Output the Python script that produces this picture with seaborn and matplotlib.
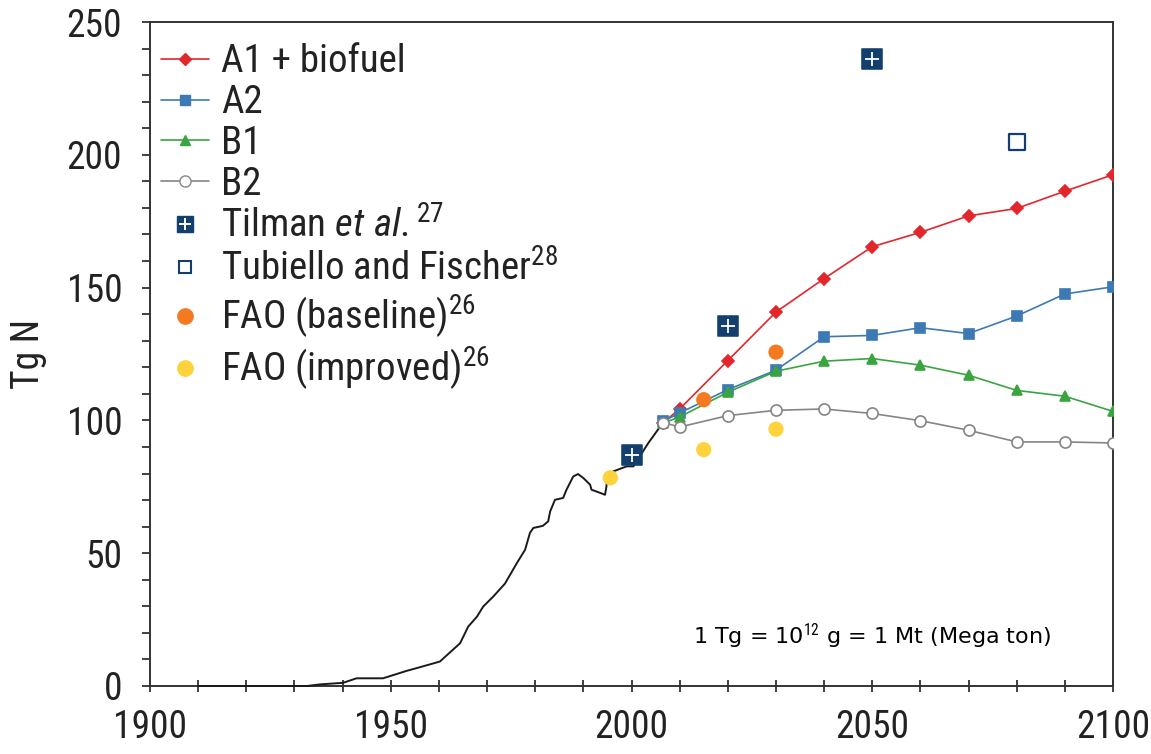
import matplotlib
matplotlib.use("Agg")
import matplotlib.pyplot as plt
from matplotlib import font_manager
from matplotlib.lines import Line2D
from matplotlib.ticker import MultipleLocator
import seaborn as sns

# ---- historical world fertilizer N use (Tg N) ----
hist_years = [1910, 1932.6, 1935.3, 1940.1, 1942.9, 1948.4, 1950.5, 1953.3, 1956.1,
              1960.2, 1964.4, 1966.1, 1967.9, 1969.2, 1971.3, 1973.7, 1976.2, 1977.9,
              1978.9, 1979.6, 1981.6, 1982.7, 1983.1, 1984.1, 1985.8, 1986.5, 1987.9,
              1988.9, 1990.0, 1991.4, 1991.7, 1993.5, 1994.5, 1994.8, 1994.9, 1996.2,
              1999.0, 2000.4, 2003.5, 2006.6]
hist_vals = [0, 0, 0.6, 1.2, 2.9, 2.9, 4.1, 5.7, 7.1,
             9.2, 16.1, 22.4, 26.1, 29.9, 33.7, 38.5, 46.3, 51.3,
             57.6, 59.5, 60.3, 62.0, 65.7, 70.1, 70.8, 73.9, 78.9,
             79.8, 78.3, 75.8, 73.9, 72.7, 72.0, 75.2, 78.9, 80.8,
             82.7, 82.7, 91.5, 99.3]

# ---- scenario projections ----
scen_years = [2006.6, 2010, 2020, 2030, 2040, 2050, 2060, 2070, 2080, 2090, 2100]
a1_biofuel = [99.2, 104.3, 122.5, 140.8, 153.4, 165.4, 170.8, 177.0, 179.8, 186.3, 192.5]
a2 = [99.7, 102.8, 111.6, 118.9, 131.5, 132.0, 134.9, 132.7, 139.3, 147.6, 150.3]
b1 = [99.0, 101.3, 110.6, 118.5, 122.3, 123.3, 120.8, 117.0, 111.3, 109.1, 103.4]
b2 = [99.2, 97.5, 101.8, 103.8, 104.3, 102.6, 99.9, 96.3, 91.9, 91.9, 91.5]

# ---- other estimates ----
tilman_years = [2000, 2020, 2050]
tilman_vals = [87.0, 135.5, 236.0]
tubiello_years = [2080]
tubiello_vals = [205.0]
fao_base_years = [2015, 2030]
fao_base_vals = [107.8, 125.7]
fao_impr_years = [1995.6, 2015, 2030]
fao_impr_vals = [78.4, 89.0, 96.7]

labels = ["A1 + biofuel", "A2", "B1", "B2",
          r"Tilman $\mathit{et\ al.}$$^{27}$",
          r"Tubiello and Fischer$^{28}$",
          r"FAO (baseline)$^{26}$",
          r"FAO (improved)$^{26}$"]

C_A1, C_A2, C_B1, C_B2 = "#e3262b", "#3d7ab5", "#3aa540", "#858585"
C_TIL, C_ORG, C_YEL = "#123f6e", "#f47a22", "#fdd23a"

sns.set_style("ticks")
installed = {f.name for f in font_manager.fontManager.ttflist}
main_font = next((f for f in ["Liberation Sans Narrow", "Roboto Condensed",
                              "DejaVu Sans"] if f in installed), "DejaVu Sans")
plt.rcParams["font.family"] = [main_font, "DejaVu Sans"]
plt.rcParams["mathtext.fontset"] = "custom"
plt.rcParams["mathtext.rm"] = main_font
plt.rcParams["mathtext.it"] = main_font + ":italic"

fig = plt.figure(figsize=(11.51, 7.54), dpi=100)
ax = fig.add_axes([150 / 1151, 1 - 686 / 754, 963 / 1151, 664 / 754])

# historical record
sns.lineplot(x=hist_years, y=hist_vals, ax=ax, color="#1a1a1a", lw=1.4,
             estimator=None, sort=False, zorder=3, clip_on=False)

# scenarios
series = [(a1_biofuel, C_A1, "D", 6.5, C_A1),
          (a2, C_A2, "s", 7, C_A2),
          (b1, C_B1, "^", 7, C_B1),
          (b2, C_B2, "o", 8, "white")]
for vals, col, mk, ms, fc in series:
    sns.lineplot(x=scen_years, y=vals, ax=ax, color=col, lw=1.2, marker=mk,
                 markersize=ms, markerfacecolor=fc, markeredgecolor=col,
                 markeredgewidth=1.2, estimator=None, sort=False, zorder=4)

# point estimates
sns.scatterplot(x=fao_impr_years, y=fao_impr_vals, ax=ax, color=C_YEL, s=120,
                edgecolor="none", zorder=5)
sns.scatterplot(x=fao_base_years, y=fao_base_vals, ax=ax, color=C_ORG, s=120,
                edgecolor="none", zorder=5)
sns.scatterplot(x=tubiello_years, y=tubiello_vals, ax=ax, marker="s", s=130,
                facecolor="white", edgecolor=C_TIL, linewidth=1.6, zorder=5)
sns.scatterplot(x=tilman_years, y=tilman_vals, ax=ax, marker="s", s=200,
                color=C_TIL, edgecolor=C_TIL, zorder=6)
sns.scatterplot(x=tilman_years, y=tilman_vals, ax=ax, marker="+", s=110,
                color="white", linewidth=1.3, zorder=7)

ax.set_xlim(1900, 2100)
ax.set_ylim(0, 250)
ax.xaxis.set_major_locator(MultipleLocator(50))
ax.xaxis.set_minor_locator(MultipleLocator(10))
ax.yaxis.set_major_locator(MultipleLocator(50))
ax.yaxis.set_minor_locator(MultipleLocator(10))
ax.tick_params(axis="x", which="both", direction="inout", length=9, width=1.3,
               color="#333333", labelsize=27, pad=12, labelcolor="#222222")
ax.tick_params(axis="y", which="both", direction="out", length=6, width=1.3,
               color="#333333", labelsize=27, pad=14, labelcolor="#222222")
for sp in ax.spines.values():
    sp.set_visible(True)
    sp.set_color("#333333")
    sp.set_linewidth(1.4)
ax.set_xlabel("")
ax.set_ylabel("Tg N", fontsize=27, color="#222222", labelpad=14)

# legend
handles = [
    Line2D([], [], color=C_A1, lw=1.2, marker="D", ms=6.5, mfc=C_A1, mec=C_A1),
    Line2D([], [], color=C_A2, lw=1.2, marker="s", ms=7, mfc=C_A2, mec=C_A2),
    Line2D([], [], color=C_B1, lw=1.2, marker="^", ms=7, mfc=C_B1, mec=C_B1),
    Line2D([], [], color=C_B2, lw=1.2, marker="o", ms=8, mfc="white", mec=C_B2),
    (Line2D([], [], ls="none", marker="s", ms=12, mfc=C_TIL, mec=C_TIL),
     Line2D([], [], ls="none", marker="+", ms=9, mec="white", mew=1.4)),
    Line2D([], [], ls="none", marker="s", ms=9, mfc="white", mec=C_TIL, mew=1.5),
    Line2D([], [], ls="none", marker="o", ms=11, mfc=C_ORG, mec=C_ORG),
    Line2D([], [], ls="none", marker="o", ms=11, mfc=C_YEL, mec=C_YEL),
]
ax.legend(handles, labels, loc="upper left", bbox_to_anchor=(0.011, 0.968),
          frameon=False, fontsize=28, handlelength=1.25, handletextpad=0.3,
          labelspacing=0.1, borderpad=0, borderaxespad=0,
          labelcolor="#222222")

ax.text(2050, 18.5, r"1 Tg = 10$^{12}$ g = 1 Mt (Mega ton)", ha="center",
        va="center", fontsize=16, color="black", family="DejaVu Sans")

fig.savefig("out.png", dpi=100)
